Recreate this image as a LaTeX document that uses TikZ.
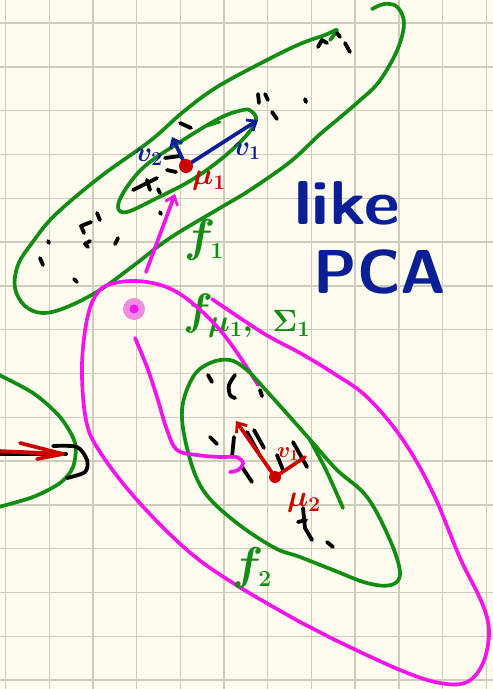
\RequirePackage{fix-cm}
\documentclass[tikz,border=0pt]{standalone}
\usepackage{fontspec}
\usetikzlibrary{arrows.meta}
\definecolor{paper}{RGB}{253,252,238}
\definecolor{gridc}{RGB}{208,204,188}
\definecolor{pgreen}{RGB}{18,140,18}
\definecolor{pmag}{RGB}{245,20,235}
\definecolor{ppink}{RGB}{240,140,225}
\definecolor{pblue}{RGB}{10,30,150}
\definecolor{pred}{RGB}{205,0,0}
\tikzset{
  ink/.style={line width=3.7pt, line cap=round, line join=round},
  gstroke/.style={ink, draw=pgreen},
  mstroke/.style={ink, draw=pmag},
  kstroke/.style={ink, draw=black, line width=3.8pt},
  barb/.style={-{Straight Barb[length=8pt,width=13pt,line width=2.8pt]}},
  gridline/.style={draw=gridc, line width=1.4pt},
  glabel/.style={text=pgreen, inner sep=0pt},
  bigtext/.style={text=pblue, font=\sffamily\bfseries\fontsize{62}{62}\selectfont, inner sep=0pt}
}
\begin{document}
\begin{tikzpicture}[x=1pt,y=-1pt]
\fill[paper] (0,0) rectangle (493,689);
\useasboundingbox (0,0) rectangle (493,689);
\foreach \i in {0,...,11} \draw[gridline] ({5.5+43.7*\i},0) -- ({5.5+43.7*\i},689);
\foreach \j in {0,...,15} \draw[gridline] (0,{23+43.8*\j}) -- (493,{23+43.8*\j});

% ---------- cluster 1 ----------
\draw[gstroke] plot[smooth, tension=0.6] coordinates {(372,9) (384,4) (396,6) (403,17) (403,32) (395,55) (378,83) (358,102) (337,120) (318,136) (290,162) (250,190) (220,208) (170,238) (133,266) (100,290) (67,307) (43,313) (25,306) (15,288) (18,265) (32,243) (55,215) (100,177) (150,141) (183,112) (217,87) (267,60) (300,44) (325,35) (337,30) (330,40)};
\draw[gstroke] plot[smooth cycle, tension=0.6] coordinates {(243,110) (220,118) (180,142) (145,166) (125,190) (118,207) (127,212) (157,198) (190,181) (220,160) (245,137) (256,120) (251,111)};
\draw[gstroke, line width=2.8pt] (207,126) -- (220,122);

% black samples, cluster 1
\draw[kstroke] (318,47) -- (322,40) -- (327,43);
\draw[kstroke] (337,33) -- (340,37);
\draw[kstroke] (345,43) -- (350,52);
\draw[kstroke] (258,94) -- (259,103);
\draw[kstroke] (265,94) -- (268,100);
\draw[kstroke] (305,99) -- (306,102);
\draw[kstroke] (272,112) -- (277,119);
\draw[kstroke] (180,123) -- (191,128);
\draw[kstroke] (165,158) -- (180,156);
\draw[kstroke] (167,170) -- (176,172);
\draw[kstroke] (133,190) -- (157,178);
\draw[kstroke] (147,180) -- (150,190);
\draw[kstroke] (158,189) -- (160,193);
\draw[kstroke] (160,212) -- (161,214);
\draw[kstroke] (48,241) -- (49,243);
\draw[kstroke] (40,258) -- (43,265);
\draw[kstroke] (74,279) -- (77,282);
\draw[kstroke] (91,222) -- (81,226) -- (84,233);
\draw[kstroke] (97,213) -- (100,220);
\draw[kstroke] (90,241) -- (85,244) -- (88,247);
\draw[kstroke] (115,244) -- (118,238);

% eigenvectors
\coordinate (mu1) at (186,166);
\coordinate (v1tip) at (258,120);
\coordinate (v2tip) at (172,137);
\draw[ink, draw=pblue, barb] (mu1) -- (v1tip);
\draw[ink, draw=pblue, barb] (mu1) -- (v2tip);
\fill[pred] (mu1) circle (7);
\node[text=pblue, font=\boldmath\fontsize{28}{28}\selectfont, inner sep=0pt] (v2lab) at (149,157) {$v_2$};
\node[text=pblue, font=\boldmath\fontsize{28}{28}\selectfont, inner sep=0pt] (v1lab) at (247,151) {$v_1$};
\node[text=pred, font=\boldmath\fontsize{30}{30}\selectfont, inner sep=0pt] (mu1lab) at (209,181) {$\mu_1$};

% labels
\node[glabel, font=\boldmath\fontsize{46}{46}\selectfont] (f1lab) at (204,240) {$f_{\scriptscriptstyle 1}$};
\node[glabel, font=\boldmath\fontsize{44}{44}\selectfont, anchor=west] (fmulab) at (183,316) {$f_{\mu_1,\;\;\Sigma_1}$};
\node[bigtext] (like) at (347,203) {\scalebox{1.12}[1]{like}};
\node[bigtext] (pca) at (380,272) {PCA};

% magenta sample point and arrow
\node[circle, fill=ppink, minimum size=22pt, inner sep=0pt] (pdot) at (134,309) {};
\fill[pmag] (pdot.center) circle (4.5);
\coordinate (ma0) at (146,272);
\coordinate (ma1) at (175,194);
\draw[mstroke, barb] (ma0) -- (ma1);

% big magenta loop
\draw[mstroke] plot[smooth, tension=0.6] coordinates {(258,385) (240,357) (220,330) (197,307) (173,290) (147,282) (120,282) (100,290) (88,315) (82,365) (86,420) (100,452) (137,500) (187,550) (233,583) (300,622) (333,639) (400,670) (440,683) (467,682) (483,663) (489,632) (482,603) (460,558) (433,493) (403,440) (367,397) (333,373) (300,353) (263,333) (212,299)};

% ---------- cluster 2 ----------
\draw[gstroke] plot[smooth cycle, tension=0.6] coordinates {(313,443) (337,470) (367,497) (390,540) (400,573) (391,585) (367,583) (333,570) (300,557) (273,547) (233,520) (203,490) (188,452) (182,410) (193,377) (210,363) (230,360) (247,370) (263,387) (290,417)};
\draw[gstroke] plot[smooth] coordinates {(310,440) (326,470) (343,508)};

% black samples, cluster 2
\draw[kstroke] (208,375) -- (212,382);
\draw[kstroke] plot[smooth] coordinates {(235,375) (229,385) (230,395) (235,398)};
\draw[kstroke] (260,390) -- (262,396);
\draw[kstroke] (210,437) -- (217,444);
\draw[kstroke] (234,437) -- (232,457);
\draw[kstroke] (247,432) -- (258,452);
\draw[kstroke] (254,430) -- (264,448);
\draw[kstroke] (242,467) -- (252,482);
\draw[kstroke] (293,442) -- (307,467);
\draw[kstroke] (277,455) -- (283,470);
\draw[kstroke] (303,508) -- (305,528) -- (312,540);
\draw[kstroke] (298,522) -- (306,520);
\draw[kstroke] (327,542) -- (333,547);

% magenta trajectory
\draw[mstroke] plot[smooth, tension=0.6] coordinates {(135,338) (147,367) (157,397) (167,430) (177,450) (197,455) (220,457) (236,457) (243,463) (238,470) (230,472)};

% red mean and vectors
\coordinate (mu2) at (275,477);
\coordinate (w1tip) at (236,421);
\coordinate (w2tip) at (305,457);
\draw[ink, draw=pred, barb] (mu2) -- (w1tip);
\draw[ink, draw=pred] (mu2) -- (w2tip);
\fill[pred] (mu2) circle (6);
\node[text=pred, font=\boldmath\fontsize{22}{22}\selectfont, inner sep=0pt] (w2lab) at (288,454) {$v_1$};
\node[text=pred, font=\boldmath\fontsize{30}{30}\selectfont, inner sep=0pt] (mu2lab) at (304,503) {$\mu_2$};
\node[glabel, font=\boldmath\fontsize{46}{46}\selectfont] (f2lab) at (252,568) {$f_{\scriptscriptstyle 2}$};

% ---------- left partial cluster ----------
\draw[gstroke] plot[smooth] coordinates {(-5,373) (33,393) (60,417) (75,443) (73,467) (60,483) (33,497) (-5,508)};
\coordinate (la0) at (-5,454);
\coordinate (la1) at (66,454);
\draw[kstroke] (la0) -- (la1);
\draw[kstroke] plot[smooth] coordinates {(53,446) (77,447) (87,460) (85,472) (67,478)};
\coordinate (ra0) at (-5,451);
\coordinate (ra1) at (63,454);
\draw[ink, draw=pred, line width=4pt] (ra0) -- (ra1);
\draw[ink, draw=pred] (20,443) -- (ra1) -- (37,459);
\end{tikzpicture}
\end{document}
